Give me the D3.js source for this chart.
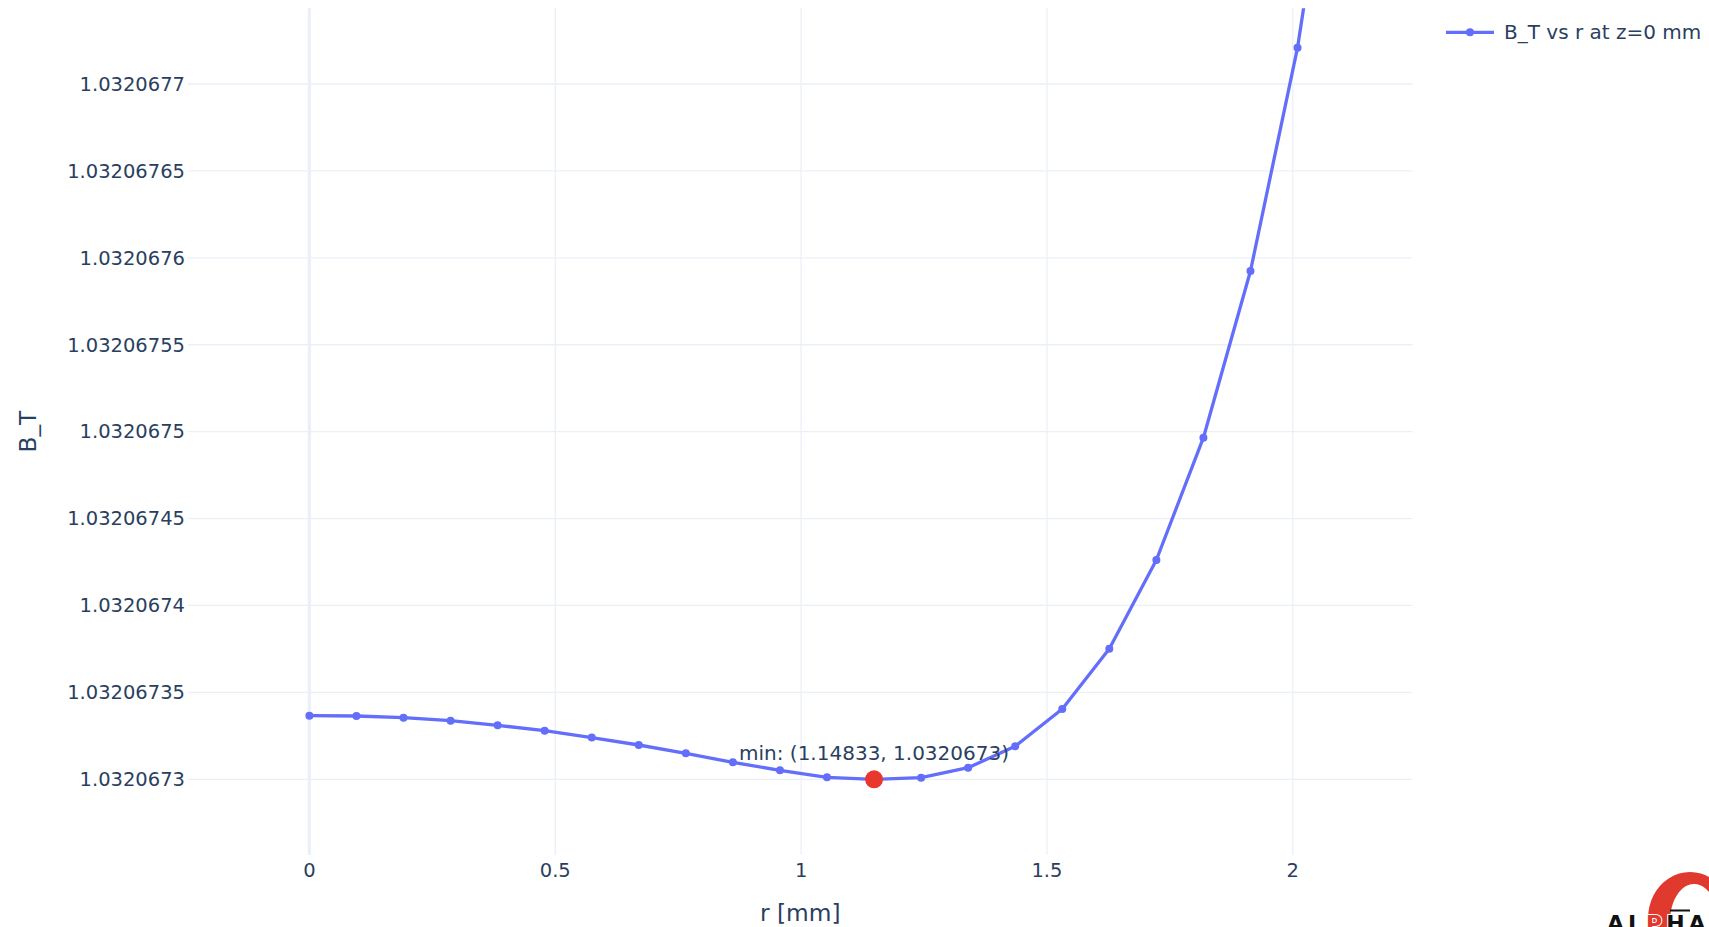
<!DOCTYPE html>
<html>
<head>
<meta charset="utf-8">
<script src="https://cdn.jsdelivr.net/npm/d3@7"></script>
<style>
    body { margin: 0; background: #fff; overflow: hidden; }
    text { font-family: 'DejaVu Sans', Verdana, sans-serif; fill: #2a3f5f; }
</style>
</head>
<body>
<div id="svg-container"></div>
<script>
// radial positions in mm
const rValues = [0, 0.09569, 0.19139, 0.28708, 0.38278, 0.47847, 0.57417, 0.66986,
    0.76555, 0.86125, 0.95694, 1.05264, 1.14833, 1.24403, 1.33972, 1.43541,
    1.53111, 1.62680, 1.72250, 1.81819, 1.91389, 2.00958, 2.10527];

// field values
const bValues = [1.03206733659, 1.03206733642, 1.03206733544, 1.03206733371,
    1.03206733107, 1.03206732796, 1.03206732400, 1.03206731973, 1.03206731496,
    1.03206730978, 1.03206730518, 1.03206730115, 1.03206730000, 1.03206730092,
    1.03206730667, 1.03206731898, 1.03206734044, 1.03206737513, 1.03206742616,
    1.03206749652, 1.03206759242, 1.03206772088, 1.03206789700];

// minimum point
const minR = 1.14833;
const minB = 1.0320673;
const minLabel = 'min: (1.14833, 1.0320673)';

const seriesName = 'B_T vs r at z=0 mm';

// axis ranges and ticks
const xRange = [-0.2469, 2.2434];
const yRange = [1.03206725645, 1.03206774355];
const xTicks = [0, 0.5, 1, 1.5, 2];
const xTickLabels = ['0', '0.5', '1', '1.5', '2'];
const yTicks = [1.0320673, 1.03206735, 1.0320674, 1.03206745, 1.0320675,
    1.03206755, 1.0320676, 1.03206765, 1.0320677];
const yTickLabels = ['1.0320673', '1.03206735', '1.0320674', '1.03206745', '1.0320675',
    '1.03206755', '1.0320676', '1.03206765', '1.0320677'];

const svgWidth = 1709;
const svgHeight = 927;
const plot = { left: 188, right: 1412.5, top: 8.3, bottom: 855 };

const lineColor = '#636efa';
const gridColor = '#ebf0f8';

const svg = d3
.select('#svg-container')
.append('svg')
.attr('width', svgWidth)
.attr('height', svgHeight)
.style('display', 'block');

const x = d3.scaleLinear().domain(xRange).range([plot.left, plot.right]);
const y = d3.scaleLinear().domain(yRange).range([plot.bottom, plot.top]);

// clip everything drawn inside the plot box
svg.append('clipPath')
.attr('id', 'plot-clip')
.append('rect')
.attr('x', plot.left)
.attr('y', plot.top)
.attr('width', plot.right - plot.left)
.attr('height', plot.bottom - plot.top);

// horizontal grid
svg.append('g')
.selectAll('line')
.data(yTicks)
.enter()
.append('line')
.attr('x1', plot.left)
.attr('x2', plot.right)
.attr('y1', (d) => y(d))
.attr('y2', (d) => y(d))
.attr('stroke', gridColor)
.attr('stroke-width', 1.3);

// vertical grid, the zero line is drawn thicker
svg.append('g')
.selectAll('line')
.data(xTicks)
.enter()
.append('line')
.attr('x1', (d) => x(d))
.attr('x2', (d) => x(d))
.attr('y1', plot.top)
.attr('y2', plot.bottom)
.attr('stroke', gridColor)
.attr('stroke-width', (d) => d === 0 ? 3.3 : 1.3);

// tick labels
svg.append('g')
.selectAll('text')
.data(yTicks)
.enter()
.append('text')
.attr('x', plot.left - 3)
.attr('y', (d) => y(d))
.attr('dy', '0.35em')
.attr('text-anchor', 'end')
.attr('font-size', 19.5)
.text((d, i) => yTickLabels[i]);

svg.append('g')
.selectAll('text')
.data(xTicks)
.enter()
.append('text')
.attr('x', (d) => x(d))
.attr('y', plot.bottom + 15)
.attr('dy', '0.35em')
.attr('text-anchor', 'middle')
.attr('font-size', 19.5)
.text((d, i) => xTickLabels[i]);

// axis titles
svg.append('text')
.attr('x', (plot.left + plot.right) / 2)
.attr('y', 913)
.attr('dy', '0.35em')
.attr('text-anchor', 'middle')
.attr('font-size', 23.3)
.text('r [mm]');

svg.append('text')
.attr('transform', `translate(28, ${(plot.top + plot.bottom) / 2}) rotate(-90)`)
.attr('dy', '0.35em')
.attr('text-anchor', 'middle')
.attr('font-size', 23.3)
.text('B_T');

// the series line and markers
const points = rValues.map((r, i) => ({ r, b: bValues[i] }));

const data = svg.append('g').attr('clip-path', 'url(#plot-clip)');

data.append('path')
.datum(points)
.attr('fill', 'none')
.attr('stroke', lineColor)
.attr('stroke-width', 3.3)
.attr('stroke-linejoin', 'round')
.attr('d', d3.line().x((d) => x(d.r)).y((d) => y(d.b)));

data.selectAll('circle.pt')
.data(points)
.enter()
.append('circle')
.attr('class', 'pt')
.attr('cx', (d) => x(d.r))
.attr('cy', (d) => y(d.b))
.attr('r', 4)
.attr('fill', lineColor);

// red marker at the minimum with its label
data.append('circle')
.attr('cx', x(minR))
.attr('cy', y(minB))
.attr('r', 9)
.attr('fill', '#e8372c');

svg.append('text')
.attr('x', x(minR))
.attr('y', y(minB) - 26)
.attr('dy', '0.35em')
.attr('text-anchor', 'middle')
.attr('font-size', 20)
.text(minLabel);

// legend
const legend = svg.append('g').attr('transform', 'translate(1446, 32.3)');

legend.append('line')
.attr('x1', 0)
.attr('x2', 48)
.attr('stroke', lineColor)
.attr('stroke-width', 3.3);

legend.append('circle')
.attr('cx', 24)
.attr('r', 4)
.attr('fill', lineColor);

legend.append('text')
.attr('x', 58)
.attr('dy', '0.35em')
.attr('font-size', 20)
.text(seriesName);

// partial logo in the bottom right corner
const logo = svg.append('g');

logo.append('path')
.attr('d', 'M1690,872 a42,46 0 1,0 0.1,0 Z M1694,884 a24,37 0 1,0 0.1,0 Z')
.attr('fill', '#e03a2f')
.attr('fill-rule', 'evenodd');

logo.append('text')
.attr('x', 1607)
.attr('y', 931)
.attr('font-size', 22)
.attr('font-weight', 'bold')
.attr('letter-spacing', 4)
.style('fill', '#111')
.style('stroke', '#fff')
.style('stroke-width', 2)
.style('paint-order', 'stroke')
.html('AL<tspan style="fill:#e03a2f">P</tspan>HA');

logo.append('rect')
.attr('x', 1670)
.attr('y', 909.5)
.attr('width', 20)
.attr('height', 2)
.attr('fill', '#111');
</script>
</body>
</html>
